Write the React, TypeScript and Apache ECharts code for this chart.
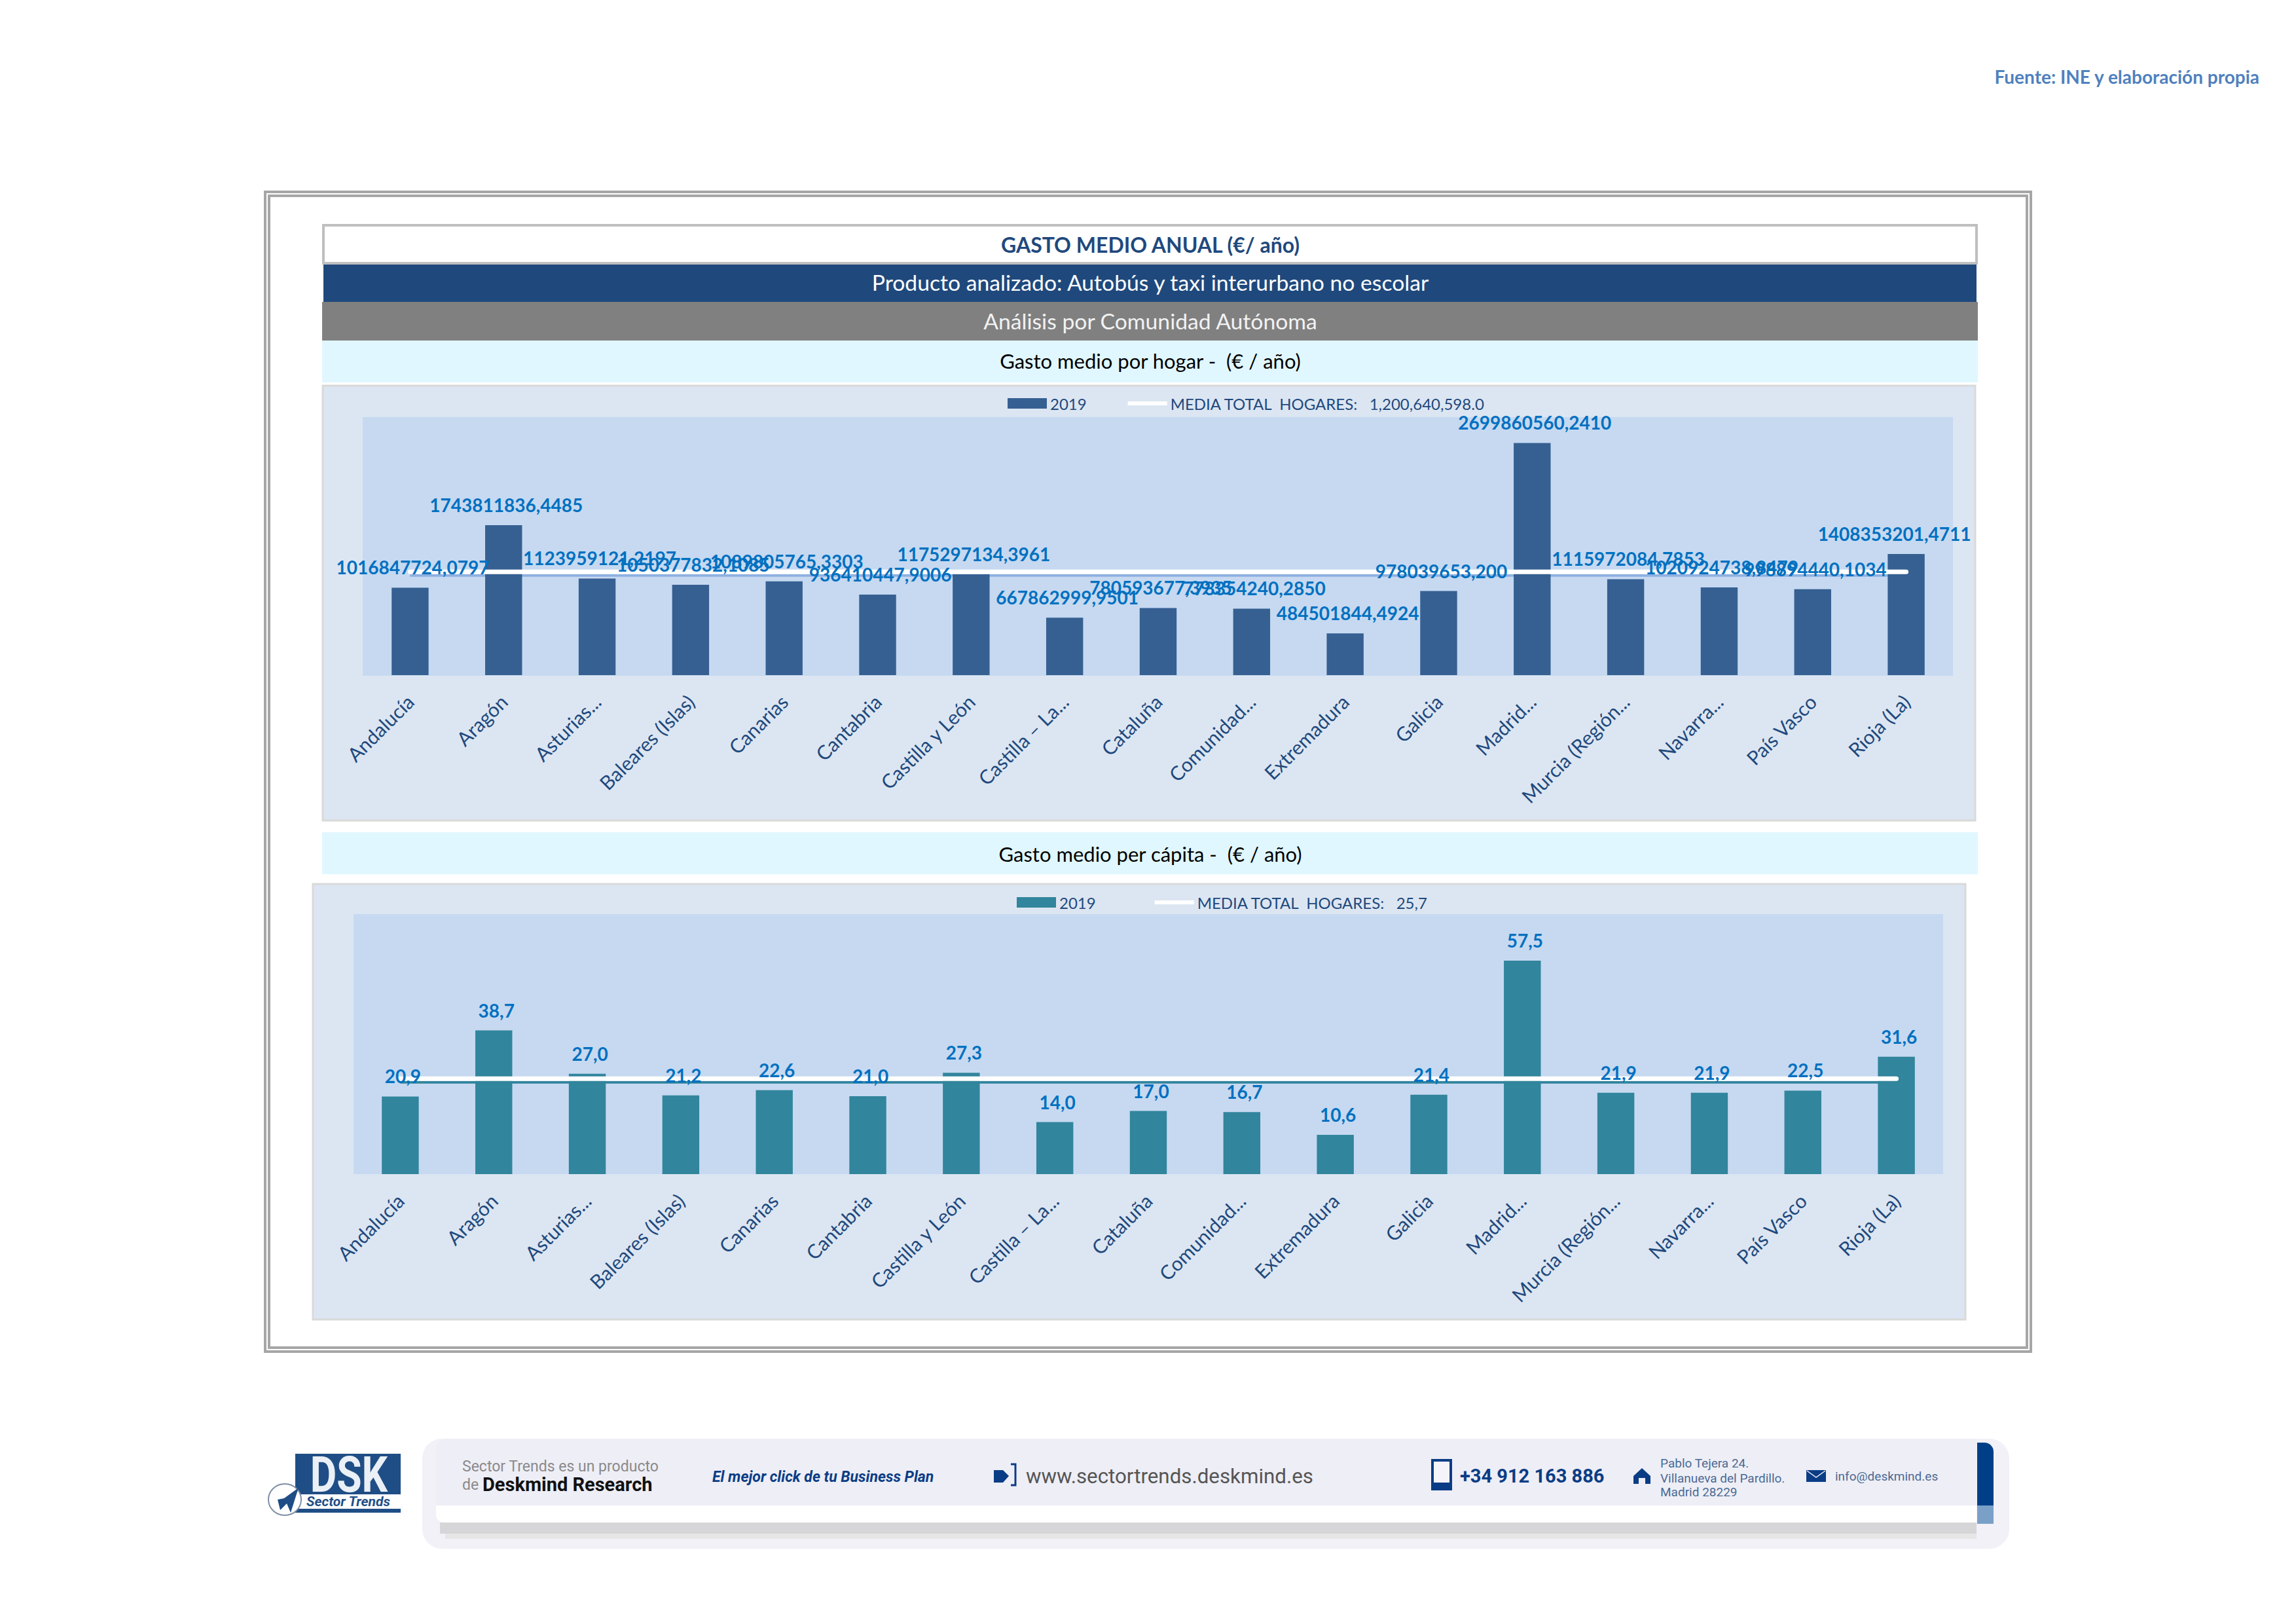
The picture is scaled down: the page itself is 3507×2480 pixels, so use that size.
import React, { useEffect, useRef } from "react";
import * as echarts from "echarts";

const categorias = ["Andalucía", "Aragón", "Asturias...", "Baleares (Islas)", "Canarias", "Cantabria", "Castilla y León", "Castilla – La...", "Cataluña", "Comunidad...", "Extremadura", "Galicia", "Madrid...", "Murcia (Región...", "Navarra...", "País Vasco", "Rioja (La)"];
const hogarValores = [1016847724.0797, 1743811836.4485, 1123959121.2197, 1050377832.1085, 1089805765.3303, 936410447.9006, 1175297134.3961, 667862999.9501, 780593677.3935, 773354240.285, 484501844.4924, 978039653.2, 2699860560.241, 1115972084.7853, 1020924738.8479, 998894440.1034, 1408353201.4711];
const hogarEtiquetas = ["1016847724,0797", "1743811836,4485", "1123959121,2197", "1050377832,1085", "1089805765,3303", "936410447,9006", "1175297134,3961", "667862999,9501", "780593677,3935", "773354240,2850", "484501844,4924", "978039653,200", "2699860560,2410", "1115972084,7853", "1020924738,8479", "998894440,1034", "1408353201,4711"];
const capitaValores = [20.9, 38.7, 27.0, 21.2, 22.6, 21.0, 27.3, 14.0, 17.0, 16.7, 10.6, 21.4, 57.5, 21.9, 21.9, 22.5, 31.6];
const mediaHogar = 1200640598.0;
const mediaCapita = 25.7;
const leyendaHogar = "MEDIA TOTAL  HOGARES:   1,200,640,598.0";
const leyendaCapita = "MEDIA TOTAL  HOGARES:   25,7";

const F = "Lato";
const txt = (text: string, x: number, y: number, fontSize: number, fill: string, o: any = {}) => ({
  type: "text", x, y, scaleX: o.scaleX || 1,
  style: { text, fontSize, fill, fontFamily: o.family || F, fontWeight: o.weight || "normal", fontStyle: o.style || "normal", align: o.align || "left", verticalAlign: "middle" },
});
const box = (x: number, y: number, w: number, h: number, fill: string, stroke?: string, lw = 0, r: any = 0) => ({
  type: "rect", shape: { x, y, width: w, height: h, r }, style: { fill, stroke: stroke || "none", lineWidth: lw },
});

const fondo: any[] = [
  txt("Fuente: INE y elaboración propia", 3451, 117, 28, "#4F81BD", { weight: "bold", align: "right" }),
  box(405, 293, 2697, 1771, "#ffffff", "#A6A6A6", 4),
  box(411, 299, 2685, 1759, "none", "#A6A6A6", 4),
  box(494, 344, 2525, 58, "#ffffff", "#BFBFBF", 4),
  box(494, 404, 2525, 57, "#1F497D"),
  box(492, 461, 2529, 59, "#808080"),
  box(492, 520, 2529, 64, "#E0F7FF"),
  txt("GASTO MEDIO ANUAL (€/ año)", 1757, 373, 32, "#1F497D", { weight: "bold", align: "center" }),
  txt("Producto analizado: Autobús y taxi interurbano no escolar", 1757, 431, 33.7, "#FFFFFF", { align: "center" }),
  txt("Análisis por Comunidad Autónoma", 1757, 490, 33.7, "#F2F2F2", { align: "center" }),
  txt("Gasto medio por hogar -  (€ / año)", 1757, 551, 31, "#000000", { align: "center" }),
  box(493, 589, 2524, 664, "#DCE6F2", "#D9D9D9", 3),
  box(554, 637, 2429, 395, "#C6D9F1"),
  box(492, 1271, 2529, 64, "#E0F7FF"),
  txt("Gasto medio per cápita -  (€ / año)", 1757, 1304, 31, "#000000", { align: "center" }),
  box(478, 1350, 2524, 665, "#DCE6F2", "#D9D9D9", 3),
  box(540, 1396, 2428, 397, "#C6D9F1"),
  // pie de página
  box(645, 2197, 2424, 168, "#F1F1F7", undefined, 0, 30),
  box(666, 2197, 2353, 102, "#EEEEF6", undefined, 0, [16, 0, 0, 0]),
  box(666, 2299, 2353, 26, "#FFFFFF", undefined, 0, [0, 0, 0, 12]),
  box(672, 2325, 2347, 17, "#D6D5D8"),
  box(680, 2342, 2339, 8, "#E6E6E6"),
  box(3020, 2203, 25, 96, "#003F88", undefined, 0, [0, 14, 0, 0]),
  box(3020, 2299, 25, 28, "#7AA0C8"),
  box(451, 2220, 161, 62, "#1F4E86"),
  box(451, 2304, 161, 6, "#1F4E86"),
  txt("DSK", 533, 2252, 76, "#EAF0F6", { weight: "bold", align: "center", family: "Roboto", scaleX: 0.82 }),
  txt("Sector Trends", 532, 2293, 21, "#1F4E86", { weight: "bold", style: "italic", align: "center", family: "Roboto" }),
  { type: "ellipse", shape: { cx: 435, cy: 2290, rx: 25, ry: 24 }, style: { fill: "#FFFFFF", stroke: "#7F8FA5", lineWidth: 2 } },
  { type: "polygon", shape: { points: [[456, 2272], [444, 2310], [438, 2296], [428, 2306], [424, 2290], [434, 2288]] }, style: { fill: "#1F4E86" } },
  txt("Sector Trends es un producto", 706, 2239, 23, "#8A8A8A", { family: "Roboto" }),
  txt("de", 706, 2267, 23, "#8A8A8A", { family: "Roboto" }),
  txt("Deskmind Research", 737, 2267, 29, "#111111", { family: "Roboto", weight: "bold" }),
  txt("El mejor click de tu Business Plan", 1088, 2255, 23, "#0A3D85", { family: "Roboto", weight: "bold", style: "italic" }),
  { type: "polygon", shape: { points: [[1518, 2245], [1532, 2245], [1541, 2254], [1532, 2264], [1518, 2264]] }, style: { fill: "#0A3D85" } },
  { type: "polyline", shape: { points: [[1544, 2236], [1551, 2236], [1551, 2268], [1544, 2268]] }, style: { fill: "none", stroke: "#0A3D85", lineWidth: 3 } },
  txt("www.sectortrends.deskmind.es", 1567, 2254, 31.3, "#555555", { family: "Roboto" }),
  box(2188, 2230, 28, 44, "#F4F4FA", "#0A3D85", 4),
  box(2188, 2264, 28, 10, "#0A3D85"),
  txt("+34 912 163 886", 2230, 2254, 29, "#0A3D85", { family: "Roboto", weight: "bold" }),
  { type: "polygon", shape: { points: [[2508, 2242], [2521, 2254], [2521, 2266], [2513, 2266], [2513, 2257], [2503, 2257], [2503, 2266], [2495, 2266], [2495, 2254]] }, style: { fill: "#0A3D85" } },
  txt("Pablo Tejera 24.", 2536, 2234, 19, "#4A6A94", { family: "Roboto" }),
  txt("Villanueva del Pardillo.", 2536, 2257, 19, "#4A6A94", { family: "Roboto" }),
  txt("Madrid 28229", 2536, 2278, 19, "#4A6A94", { family: "Roboto" }),
  box(2759, 2245, 30, 18, "#0A3D85"),
  { type: "polyline", shape: { points: [[2760, 2246], [2774, 2256], [2788, 2246]] }, style: { fill: "none", stroke: "#EEEEF6", lineWidth: 1.5 } },
  txt("info@deskmind.es", 2803, 2254, 19, "#4A6A94", { family: "Roboto" }),
];

function sombraSerie(name: string, idx: number, media: number, color: string) {
  return {
    type: "custom", name, xAxisIndex: idx, yAxisIndex: idx, z: 1, silent: true,
    data: [[0, media]], encode: { x: 0, y: 1 },
    renderItem: (_p: any, api: any) => {
      const a = api.coord([0, media]);
      const b = api.coord([categorias.length - 1, media]);
      return { type: "line", shape: { x1: a[0], y1: a[1] + 5.5, x2: b[0] + 5, y2: b[1] + 5.5 }, style: { stroke: color, lineWidth: 4, fill: "none" } };
    },
  };
}

function bloque(idx: number, nombre: string, valores: any[], color: string, sombra: string, leyenda: string, media: number, fmt: (p: any) => string, etiquetados: any[]) {
  const etiqueta = { show: true, position: "top", distance: 17, offset: [4, 0], color: "#0070C0", fontFamily: F, fontWeight: "bold", fontSize: 28, formatter: fmt };
  return [
    sombraSerie(nombre + " sombra", idx, media, sombra),
    { type: "bar", name: nombre, xAxisIndex: idx, yAxisIndex: idx, data: valores, barWidth: "39.5%", barGap: "-100%", z: 2, itemStyle: { color } },
    { type: "line", name: leyenda, xAxisIndex: idx, yAxisIndex: idx, data: categorias.map(() => media), symbol: "none", z: 3, lineStyle: { color: "#FFFFFF", width: 7, cap: "round" }, itemStyle: { color: "#FFFFFF" } },
    { type: "bar", name: nombre + " etiquetas", xAxisIndex: idx, yAxisIndex: idx, data: etiquetados, barWidth: "39.5%", barGap: "-100%", z: 5, itemStyle: { color: "rgba(0,0,0,0)" }, label: etiqueta },
  ];
}

const ejeX = (gridIndex: number) => ({
  type: "category", gridIndex, data: categorias, axisLine: { show: false }, axisTick: { show: false },
  axisLabel: { rotate: 45, interval: 0, margin: 35, fontSize: 30, fontFamily: F, color: "#1F497D" },
});
const iconoLinea = "path://M0,0 H60 V6 H0 Z";
const leyendaComp = (left: number, top: number, gap: number, a: string, b: string) => ({
  left, top, orient: "horizontal", itemWidth: 60, itemHeight: 16, itemGap: gap, padding: 0, data: [{ name: a, icon: "rect" }, { name: b, icon: iconoLinea }],
  formatter: (n: string) => (n.startsWith("2019") ? "2019" : n),
  textStyle: { fontFamily: F, fontSize: 24, color: "#1F497D" },
});

export default function App() {
  const ref = useRef<HTMLDivElement>(null);
  useEffect(() => {
    const chart = echarts.init(ref.current!, undefined, { renderer: "svg" });
    // la última etiqueta del primer gráfico queda desplazada a la izquierda para no salir del panel
    const hogarConEtiqueta = hogarValores.map((value, i) =>
      i === hogarValores.length - 1 ? { value, label: { offset: [-18, 0] } } : value,
    );
    chart.setOption({
      animation: false,
      backgroundColor: "#FFFFFF",
      graphic: { elements: fondo },
      legend: [
        leyendaComp(1539, 604, 63, "2019 hogar", leyendaHogar),
        leyendaComp(1553, 1366, 90, "2019 cápita", leyendaCapita),
      ],
      grid: [
        { left: 555, top: 637, width: 2428, height: 394 },
        { left: 540, top: 1396, width: 2428, height: 397 },
      ],
      xAxis: [ejeX(0), ejeX(1)],
      yAxis: [
        { type: "value", gridIndex: 0, min: 0, max: 3000000000, show: false, splitLine: { show: false } },
        { type: "value", gridIndex: 1, min: 0, max: 70, show: false, splitLine: { show: false } },
      ],
      series: [
        ...bloque(0, "2019 hogar", hogarValores, "#366092", "#8FB0E0", leyendaHogar, mediaHogar, (p) => hogarEtiquetas[p.dataIndex], hogarConEtiqueta),
        ...bloque(1, "2019 cápita", capitaValores, "#31859C", "#31859C", leyendaCapita, mediaCapita, (p) => Number(p.value).toFixed(1).replace(".", ","), capitaValores),
      ],
    });
    return () => chart.dispose();
  }, []);
  return <div ref={ref} style={{ position: "absolute", left: 0, top: 0, width: 3507, height: 2480 }} />;
}
